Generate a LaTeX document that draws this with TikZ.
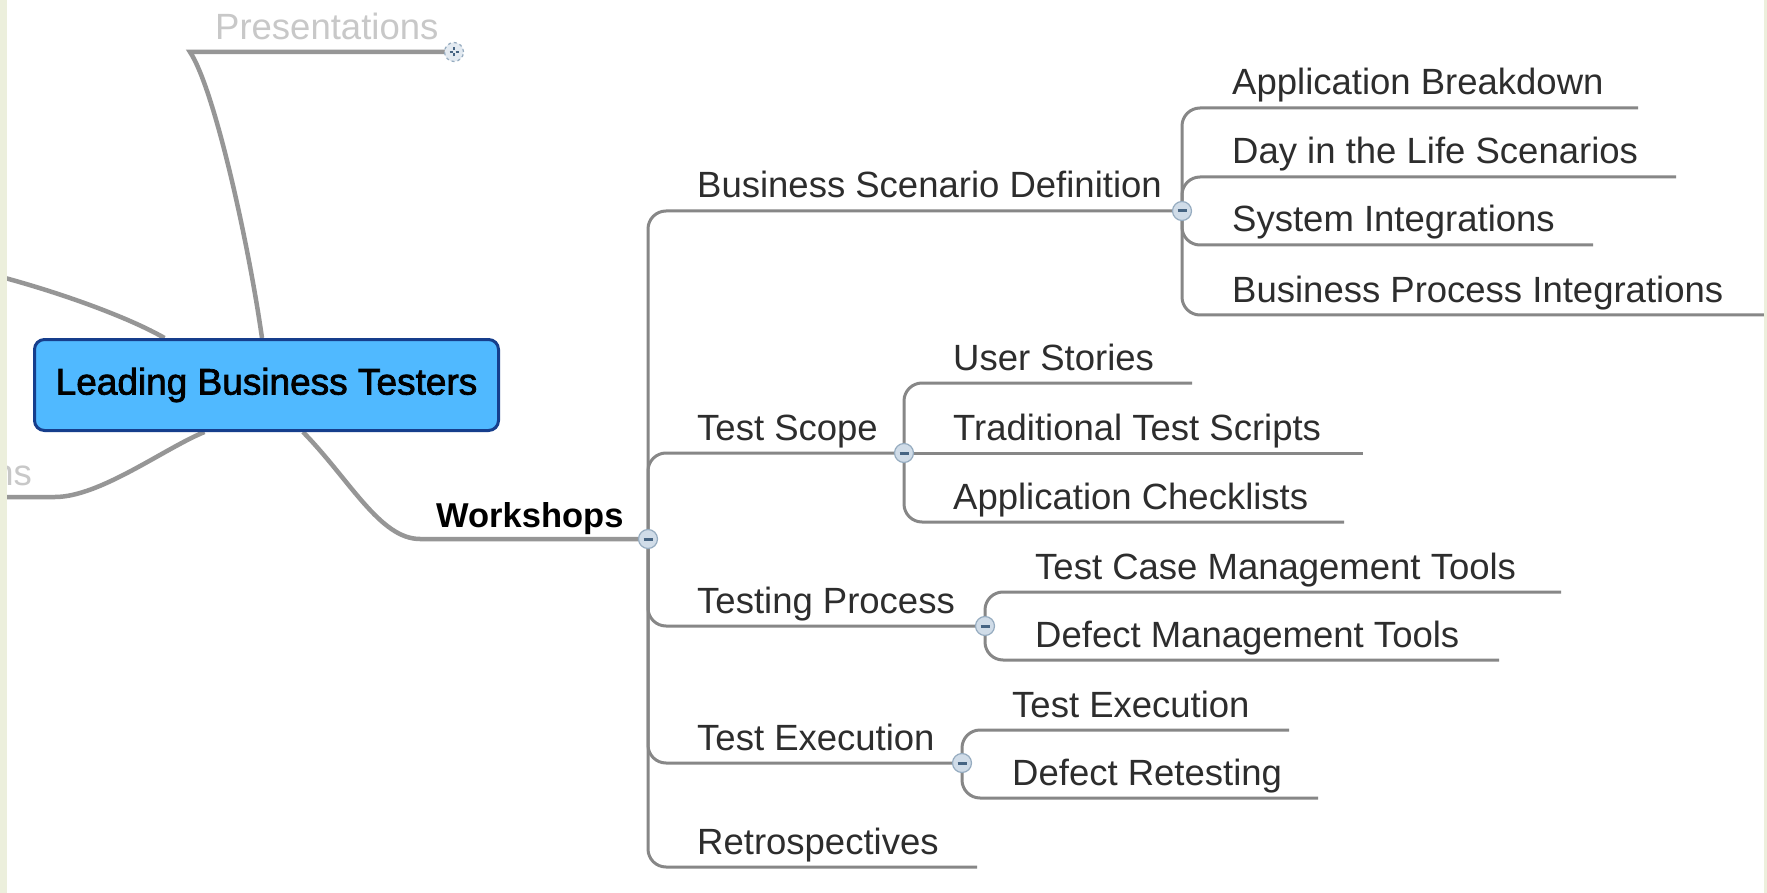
\documentclass[tikz,border=0pt]{standalone}
\usepackage{fontspec}
\setmainfont{Liberation Sans}
\newfontfamily\semibold[FakeBold=2]{Liberation Sans}
\usetikzlibrary{calc,backgrounds}
\definecolor{strip}{RGB}{236,239,220}
\definecolor{linegray}{RGB}{135,135,135}
\definecolor{biggray}{RGB}{150,150,150}
\definecolor{txt}{RGB}{45,45,45}
\definecolor{faint}{RGB}{200,200,200}
\definecolor{nodeblue}{RGB}{80,185,255}
\definecolor{navy}{RGB}{22,62,140}
\definecolor{mfill}{RGB}{208,220,232}
\definecolor{mdraw}{RGB}{150,172,192}
\definecolor{mbar}{RGB}{70,100,130}
\begin{document}
\begin{tikzpicture}[x=1pt,y=-1pt,
  lbl/.style={anchor=base west, inner sep=0pt, text=txt, font=\fontsize{36.5}{40}\selectfont},
  fadedlbl/.style={lbl, text=faint},
  boldlbl/.style={anchor=base west, inner sep=0pt, text=black, font=\bfseries\fontsize{34.5}{40}\selectfont},
  branch/.style={draw=linegray, line width=3pt, rounded corners=18pt},
  mainlink/.style={draw=biggray, line width=4.5pt},
  central/.style={draw=navy, fill=nodeblue, line width=3pt, rounded corners=10pt,
    minimum width=464pt, minimum height=91pt, inner sep=0pt,
    font=\semibold\fontsize{37}{40}\selectfont, text=black},
  collapse/.style={circle, minimum size=19pt, inner sep=0pt, fill=mfill, draw=mdraw, line width=1.2pt,
    path picture={\draw[mbar, line width=3pt]
      ([xshift=-4.5pt]path picture bounding box.center) -- ([xshift=4.5pt]path picture bounding box.center);}},
  expand/.style={circle, minimum size=19pt, inner sep=0pt, fill=mfill!60, draw=mdraw, dashed, line width=1.2pt,
    path picture={\draw[mbar, line width=2.2pt]
      ([xshift=-4.5pt]path picture bounding box.center) -- ([xshift=4.5pt]path picture bounding box.center)
      ([yshift=-4.5pt]path picture bounding box.center) -- ([yshift=4.5pt]path picture bounding box.center);}}
]
\useasboundingbox (0,0) rectangle (1767,893);
\clip (0,0) rectangle (1767,893);

% branch points (markers)
\coordinate (cPres) at (454,52);
\coordinate (cWS) at (648,539);
\coordinate (cBSD) at (1182,211);
\coordinate (cTS) at (904,453);
\coordinate (cTP) at (985,626);
\coordinate (cTE) at (962,763);
% leaf ends
\coordinate (eAB) at (1638,108);
\coordinate (eDL) at (1676,177);
\coordinate (eSI) at (1593,245);
\coordinate (eBP) at (1767,315);
\coordinate (eUS) at (1192,383);
\coordinate (eTT) at (1363,453);
\coordinate (eAC) at (1344,522);
\coordinate (eTC) at (1561,592);
\coordinate (eDM) at (1499,660);
\coordinate (eTX) at (1289,730);
\coordinate (eDR) at (1318,798);
\coordinate (eRe) at (977,867);
\coordinate (eUL) at (-10,274);
\coordinate (eLL) at (-10,497);

% central topic
\node[central] (lbt) at (266.5,385) {Leading Business Testers};

\begin{scope}[on background layer]
  \fill[white] (0,0) rectangle (1767,893);
  % links from the central topic
  \draw[mainlink] ([xshift=-4.5pt]lbt.north) .. controls (248,240) and (214,88) .. (190,52) -- (cPres);
  \draw[mainlink] ([xshift=-102pt]lbt.north) .. controls (130,318) and (60,292) .. (eUL);
  \draw[mainlink] ([xshift=-62pt]lbt.south) .. controls (165,448) and (100,497) .. (55,497) -- (eLL);
  \draw[mainlink] ([xshift=36.5pt]lbt.south) .. controls (350,480) and (380,539) .. (420,539) -- (cWS);
  % Workshops branches
  \draw[branch] (cWS) |- (cBSD);
  \draw[branch] (cWS) |- (cTS);
  \draw[branch] (cWS) |- (cTP);
  \draw[branch] (cWS) |- (cTE);
  \draw[branch] (cWS) |- (eRe);
  % Business Scenario Definition
  \draw[branch] (cBSD) |- (eAB);
  \draw[branch] (cBSD) |- (eDL);
  \draw[branch] (cBSD) |- (eSI);
  \draw[branch] (cBSD) |- (eBP);
  % Test Scope
  \draw[branch] (cTS) |- (eUS);
  \draw[branch] (cTS) -- (eTT);
  \draw[branch] (cTS) |- (eAC);
  % Testing Process
  \draw[branch] (cTP) |- (eTC);
  \draw[branch] (cTP) |- (eDM);
  % Test Execution
  \draw[branch] (cTE) |- (eTX);
  \draw[branch] (cTE) |- (eDR);
\end{scope}

% labels
\node[fadedlbl] (tPres) at (215,40) {Presentations};
\node[fadedlbl, anchor=base east] (tNs) at (32,485) {ns};
\node[boldlbl] (tWS) at (436,527) {Workshops};
\node[lbl] (tBSD) at (697,198) {Business Scenario Definition};
\node[lbl] (tTS) at (697,440) {Test Scope};
\node[lbl] (tTP) at (697,613) {Testing Process};
\node[lbl] (tTE) at (697,750) {Test Execution};
\node[lbl] (tRe) at (697,854) {Retrospectives};
\node[lbl] (tAB) at (1232,95) {Application Breakdown};
\node[lbl] (tDL) at (1232,164) {Day in the Life Scenarios};
\node[lbl] (tSI) at (1232,232) {System Integrations};
\node[lbl] (tBP) at (1232,302) {Business Process Integrations};
\node[lbl] (tUS) at (953,370) {User Stories};
\node[lbl] (tTT) at (953,440) {Traditional Test Scripts};
\node[lbl] (tAC) at (953,509) {Application Checklists};
\node[lbl] (tTC) at (1035,579) {Test Case Management Tools};
\node[lbl] (tDM) at (1035,647) {Defect Management Tools};
\node[lbl] (tTX) at (1012,717) {Test Execution};
\node[lbl] (tDR) at (1012,785) {Defect Retesting};

% collapse / expand markers
\node[expand] (mPres) at (cPres) {};
\node[collapse] (mWS) at (cWS) {};
\node[collapse] (mBSD) at (cBSD) {};
\node[collapse] (mTS) at (cTS) {};
\node[collapse] (mTP) at (cTP) {};
\node[collapse] (mTE) at (cTE) {};

% window edges
\fill[strip] (0,0) rectangle (7,893);
\fill[strip] (1764,0) rectangle (1767,893);
\end{tikzpicture}
\end{document}
